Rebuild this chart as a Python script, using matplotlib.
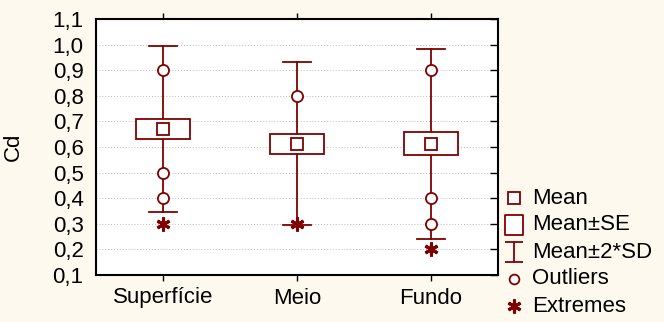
import numpy as np
import matplotlib.pyplot as plt
from matplotlib.path import Path
from matplotlib.lines import Line2D

plt.rcParams['font.family'] = ['Liberation Sans', 'DejaVu Sans']

RED = '#800000'
BG = '#fdf9ef'
W, H = 664, 322

groups = ['Superfície', 'Meio', 'Fundo']
means = [0.670, 0.613, 0.613]
se_low = [0.630, 0.573, 0.567]
se_high = [0.710, 0.652, 0.660]
sd_low = [0.346, 0.296, 0.242]
sd_high = [0.994, 0.931, 0.984]
outliers = [[0.9, 0.5, 0.4], [0.8], [0.9, 0.4, 0.3]]
extremes = [[0.3], [0.3], [0.2]]

box_w = 0.40
cap_w = 0.21
FS = 16

fig = plt.figure(figsize=(W / 100, H / 100), dpi=100, facecolor=BG)
ax = fig.add_axes([96 / W, 1 - 275 / H, 402 / W, 256 / H])
ax.set_facecolor('white')

for i in range(len(groups)):
    # whisker line, drawn in two halves so it does not cross the box
    ax.plot([i, i], [sd_low[i], se_low[i]], color=RED, lw=1.3, zorder=2)
    ax.plot([i, i], [se_high[i], sd_high[i]], color=RED, lw=1.3, zorder=2)
    for y in (sd_low[i], sd_high[i]):
        ax.plot([i - cap_w / 2, i + cap_w / 2], [y, y], color=RED, lw=1.3, zorder=2)
    ax.add_patch(plt.Rectangle((i - box_w / 2, se_low[i]), box_w, se_high[i] - se_low[i],
                               facecolor='white', edgecolor=RED, lw=1.3, zorder=3))
    ax.plot(i, means[i], marker='s', ms=8, mfc='white', mec=RED, mew=1.3, zorder=4)
    ax.plot([i] * len(outliers[i]), outliers[i], ls='none', marker='o', ms=8,
            mfc='white', mec=RED, mew=1.3, zorder=4)
    ax.plot([i] * len(extremes[i]), extremes[i], ls='none', marker=(6, 2, 0), ms=10,
            mec=RED, mew=2.2, zorder=4)

ax.set_xlim(-0.5, 2.5)
ax.set_ylim(0.1, 1.1)
yt = np.arange(0.1, 1.11, 0.1)
ax.set_yticks(yt)
ax.set_yticklabels([f'{v:.1f}'.replace('.', ',') for v in yt])
ax.set_xticks(range(len(groups)))
ax.set_xticklabels(groups)
ax.yaxis.grid(True, color='#bbbbbb', ls=(0, (1, 2)), lw=0.7)
ax.set_axisbelow(True)
ax.tick_params(axis='y', which='both', left=False, right=True, direction='in',
               length=6, labelsize=FS, width=1, pad=9)
ax.tick_params(axis='x', which='both', top=True, bottom=True, direction='out',
               length=4, labelsize=FS, pad=5, width=1)
for s in ax.spines.values():
    s.set_linewidth(1.5)
ax.set_ylabel('Cd', fontsize=FS)
ax.yaxis.set_label_coords((24 - 96) / 402, 0.5)

# legend, laid out in figure pixels
rect_path = Path([(-0.43, -0.5), (0.43, -0.5), (0.43, 0.5), (-0.43, 0.5), (-0.43, -0.5)],
                 [Path.MOVETO, Path.LINETO, Path.LINETO, Path.LINETO, Path.CLOSEPOLY])
ibeam_path = Path([(-0.43, 0.5), (0.43, 0.5), (0, 0.5), (0, -0.5), (-0.43, -0.5), (0.43, -0.5)],
                  [Path.MOVETO, Path.LINETO, Path.MOVETO, Path.LINETO, Path.MOVETO, Path.LINETO])
legend_items = [
    ('Mean', dict(marker='s', ms=8, mfc='white', mew=1.3)),
    ('Mean±SE', dict(marker=rect_path, ms=15, mfc='white', mew=1.3)),
    ('Mean±2*SD', dict(marker=ibeam_path, ms=15, mfc='none', mew=1.3)),
    ('Outliers', dict(marker='o', ms=7, mfc='white', mew=1.3)),
    ('Extremes', dict(marker=(6, 2, 0), ms=10, mew=2.2)),
]
row_y = [198, 225, 252, 279, 306]
for (label, style), y in zip(legend_items, row_y):
    fy = 1 - y / H
    fig.add_artist(Line2D([514 / W], [fy], ls='none', mec=RED, transform=fig.transFigure,
                          **style))
    fig.text(532 / W, fy, label, fontsize=FS, va='center', ha='left')

fig.savefig('out.png', dpi=100, facecolor=BG)
